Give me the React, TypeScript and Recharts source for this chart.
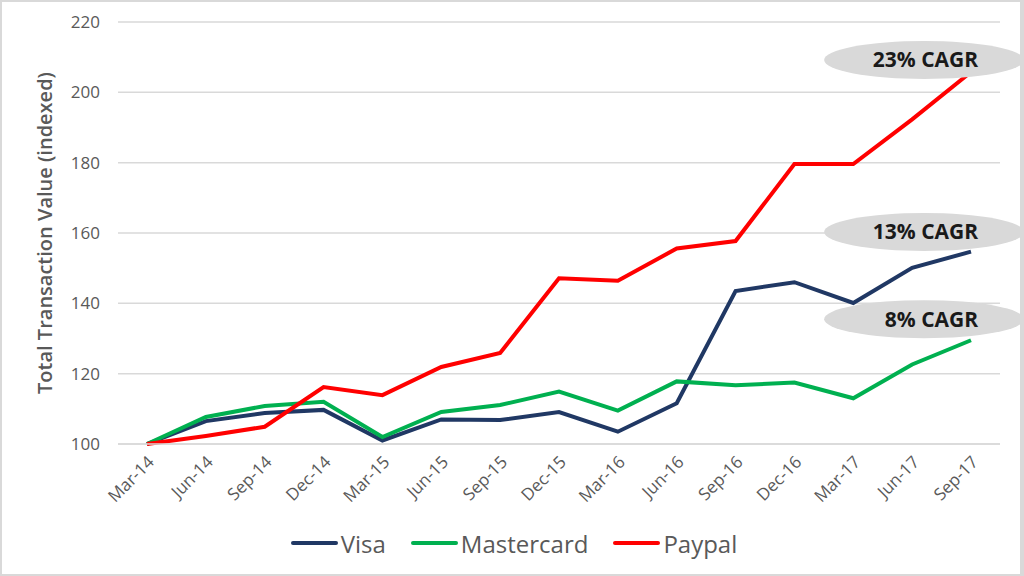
import React from 'react';
import { LineChart, Line, XAxis, YAxis, CartesianGrid, Legend, ReferenceDot } from 'recharts';

const categories = ['Mar-14', 'Jun-14', 'Sep-14', 'Dec-14', 'Mar-15', 'Jun-15', 'Sep-15', 'Dec-15', 'Mar-16', 'Jun-16', 'Sep-16', 'Dec-16', 'Mar-17', 'Jun-17', 'Sep-17'];
const visa = [100, 106.5, 108.8, 109.7, 101, 107, 106.8, 109.1, 103.5, 111.6, 143.5, 146.0, 140.1, 150.1, 154.7];
const mastercard = [100, 107.7, 110.8, 112.0, 102, 109.1, 111.1, 114.9, 109.5, 117.8, 116.7, 117.5, 113.0, 122.6, 129.5];
const paypal = [100, 102.3, 104.9, 116.2, 113.9, 121.9, 125.9, 147.1, 146.4, 155.6, 157.7, 179.6, 179.6, 192.3, 205.8];
const yTicks = [100, 120, 140, 160, 180, 200, 220];
const cagrLabels = ['23% CAGR', '13% CAGR', '8% CAGR'];
const cagrLevels = [209.2, 160.3, 135.5];
const cagrAnchor = 'Jun-17';

const seriesNames = ['Visa', 'Mastercard', 'Paypal'];
const seriesColors = ['#203864', '#00b050', '#ff0000'];

const data = categories.map((c, i) => ({ month: c, Visa: visa[i], Mastercard: mastercard[i], Paypal: paypal[i] }));

const FONT = '"Open Sans", sans-serif';
const GRAY = '#595959';

const XTick = (props: any) => {
  const { x, y, payload } = props;
  return (
    <g transform={`translate(${x + 4},${y + 7})`}>
      <text x={0} y={0} textAnchor="end" transform="rotate(-45)" fill={GRAY} fontSize={17} fontFamily={FONT} dy="0.35em">
        {payload.value}
      </text>
    </g>
  );
};

const LegendContent = (props: any) => {
  const payload = [...(props.payload || [])].sort(
    (a: any, b: any) => seriesNames.indexOf(a.value) - seriesNames.indexOf(b.value)
  );
  return (
    <div style={{ display: 'flex', justifyContent: 'center', alignItems: 'center', height: 40, paddingLeft: 28, fontFamily: FONT, fontSize: 24, color: GRAY }}>
      {payload.map((p: any, i: number) => (
        <div key={i} style={{ display: 'flex', alignItems: 'center', marginLeft: i === 0 ? 0 : 25 }}>
          <div style={{ width: 47, height: 4, background: p.color, borderRadius: 2, marginRight: 3 }} />
          <span>{p.value}</span>
        </div>
      ))}
    </div>
  );
};

const makeBubble = (text: string) => (props: any) => {
  const { cx, cy } = props;
  return (
    <g>
      <ellipse cx={cx + 12} cy={cy} rx={100} ry={19} fill="#d9d9d9" />
      <text x={cx + 66} y={cy} textAnchor="end" dy="0.35em" fontFamily={FONT} fontWeight={700} fontSize={21} fill="#1a1a1a">
        {text}
      </text>
    </g>
  );
};

export default function App() {
  return (
    <div style={{ position: 'absolute', left: 0, top: 0, width: 1024, height: 576, background: '#fff', overflow: 'hidden' }}>
      <LineChart width={1024} height={576} data={data} margin={{ top: 22, right: 24, left: 0, bottom: 13 }}>
        <CartesianGrid vertical={false} stroke="#d9d9d9" strokeWidth={1.5} />
        <XAxis
          dataKey="month"
          tick={<XTick />}
          tickLine={false}
          tickSize={0}
          tickMargin={8}
          axisLine={{ stroke: '#d9d9d9', strokeWidth: 1.5 }}
          height={79}
          interval={0}
          padding={{ left: 29, right: 29 }}
        />
        <YAxis
          domain={[100, 220]}
          ticks={yTicks}
          width={118}
          axisLine={false}
          tickLine={false}
          tickSize={0}
          tickMargin={18}
          tick={{ fill: GRAY, fontSize: 17, fontFamily: FONT }}
          label={{
            value: 'Total Transaction Value (indexed)',
            angle: -90,
            position: 'insideLeft',
            offset: 45,
            style: { textAnchor: 'middle', fill: GRAY, fontSize: 20, fontWeight: 600, fontFamily: FONT },
          }}
        />
        {seriesNames.map((name, i) => (
          <Line key={name} type="linear" dataKey={name} stroke={seriesColors[i]} strokeWidth={4} dot={false} isAnimationActive={false} />
        ))}
        {cagrLabels.map((t, i) => (
          <ReferenceDot key={t} x={cagrAnchor} y={cagrLevels[i]} r={0} shape={makeBubble(t)} ifOverflow="visible" />
        ))}
        <Legend verticalAlign="bottom" height={40} content={<LegendContent />} />
      </LineChart>
      <div style={{ position: 'absolute', left: 0, top: 0, width: 1024, height: 576, boxSizing: 'border-box', border: '2px solid #d9d9d9', borderRight: '4px solid #d9d9d9', pointerEvents: 'none' }} />
    </div>
  );
}
